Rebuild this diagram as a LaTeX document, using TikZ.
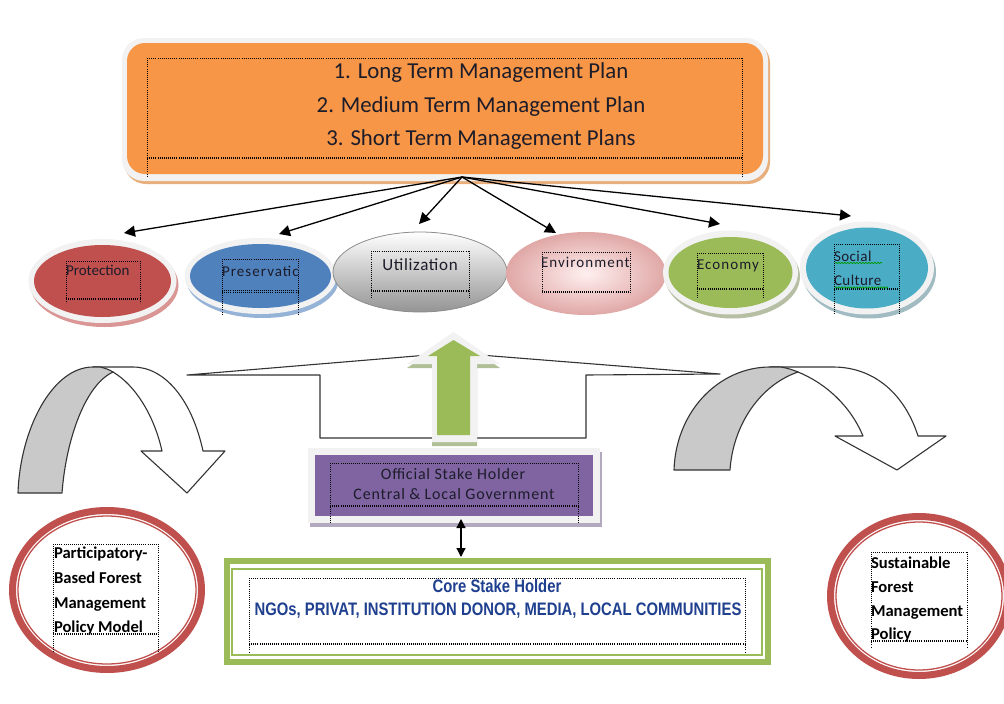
\documentclass[tikz,border=0pt]{standalone}
\usepackage{fontspec}
\setmainfont{Carlito}
\newfontfamily\narrowf[FakeStretch=0.82]{Liberation Sans}
\usetikzlibrary{arrows.meta,shapes.geometric,decorations.pathmorphing}
\definecolor{orangeF}{HTML}{F79646}
\definecolor{ringW}{HTML}{F2F2F2}
\definecolor{redF}{HTML}{C0504D}
\definecolor{blueF}{HTML}{4F81BD}
\definecolor{greenF}{HTML}{9BBB59}
\definecolor{tealF}{HTML}{4BACC6}
\definecolor{purpleF}{HTML}{8064A2}
\definecolor{navyT}{HTML}{1F3F8F}
\definecolor{darkT}{HTML}{1C1C2A}
\tikzset{
  dotline/.style={draw=black,line width=1pt,dash pattern=on 1pt off 1.1pt},
  ell/.style={ellipse,inner sep=0pt,outer sep=0pt,draw=none},
  lab/.style={inner sep=0pt,outer sep=0pt,text=darkT,anchor=base west,font=\fontsize{15}{17}\selectfont},
  toplab/.style={inner sep=0pt,outer sep=0pt,text=darkT,anchor=base,font=\fontsize{22.8}{24}\selectfont},
  boldlab/.style={lab,text=black,font=\fontsize{16.6}{18}\selectfont\bfseries},
  midlab/.style={inner sep=0pt,outer sep=0pt,text=darkT,anchor=base,font=\fontsize{16}{18}\selectfont\addfontfeature{LetterSpace=5}},
  corelab/.style={inner sep=0pt,outer sep=0pt,text=navyT,anchor=base,font=\narrowf\fontsize{18.1}{20}\selectfont\bfseries},
  link/.style={draw=black,line width=1.3pt,-{Triangle[length=11pt,width=11pt]}},
  twoway/.style={draw=black,line width=1.2pt,{Triangle[length=9pt,width=9pt]}-{Triangle[length=9pt,width=9pt]}},
  outlineS/.style={draw=black!80,line width=1.1pt,fill=white,line join=round},
  grayS/.style={outlineS,fill=black!21},
  spell/.style={draw=green!60!black,line width=0.7pt,decorate,decoration={snake,amplitude=0.7pt,segment length=3pt}}
}
% x1 y-top x2 y-line y-end
\newcommand{\dotframe}[5]{%
  \draw[dotline] (#1,#2) -- (#3,#2);
  \draw[dotline] (#1,#4) -- (#3,#4);
  \draw[dotline] (#1,#4+1.8) -- (#3,#4+1.8);
  \draw[dotline] (#1,#2) -- (#1,#5);
  \draw[dotline] (#3,#2) -- (#3,#5);
}
% name, colour, shadow colour, cx cy, fill w h, ring w h
\newcommand{\ringell}[9]{%
  \node[ell,fill=#3,minimum width=#8pt,minimum height=#9pt] at (#4+2,#5+4) {};
  \node[ell,fill=ringW,minimum width=#8pt,minimum height=#9pt] at (#4,#5) {};
  \node[ell,fill=#2,minimum width=#6pt,minimum height=#7pt] (#1) at (#4,#5) {};
}
\begin{document}
\begin{tikzpicture}[x=1pt,y=-1pt]
\useasboundingbox (0,0) rectangle (1004,704);
\clip (0,0) rectangle (1004,704);
\fill[white] (0,0) rectangle (1004,704);

% top box
\fill[rounded corners=22pt,fill=orangeF!55!brown!70] (124,41) rectangle (770,184);
\fill[rounded corners=22pt,fill=ringW] (122,38) rectangle (768,181);
\node[rectangle,draw=none,fill=orangeF,rounded corners=18pt,inner sep=0pt,minimum width=636pt,minimum height=131pt] (plan) at (445,108.5) {};
\dotframe{147}{58}{742}{157}{176}
\node[toplab] (t1) at (481,78.5) {1. Long Term Management Plan};
\node[toplab] (t2) at (481,112) {2. Medium Term Management Plan};
\node[toplab] (t3) at (481,145) {3. Short Term Management Plans};
\coordinate (hub) at (462,177);

% ellipses
\ringell{prot}{redF}{redF!60!white}{102.5}{281}{137}{72}{148}{84}
\ringell{pres}{blueF}{blueF!60!white}{260.5}{276}{141}{64}{152}{76}
\node[ell,draw=black!45,line width=0.8pt,top color=white,bottom color=black!42,minimum width=174pt,minimum height=80pt] (util) at (420,272) {};
\node[ell,draw=none,shading=radial,inner color=red!6!white,outer color=redF!50!white,minimum width=160pt,minimum height=83pt] (envi) at (586,273.5) {};
\ringell{econ}{greenF}{greenF!60!black!45!white}{730.5}{272.5}{124}{71}{135}{84}
\ringell{soci}{tealF}{tealF!60!black!45!white}{867}{268}{122}{81}{134}{93}

\dotframe{66}{261}{140}{298}{303}
\dotframe{222}{259}{298}{290.5}{314}
\dotframe{371}{251}{469}{290}{299}
\dotframe{542}{252}{630}{291}{294}
\dotframe{697}{253}{763}{288}{298}
\dotframe{834}{244}{899}{288}{314}

\node[lab] (lprot) at (66,275) {Protection};
\begin{scope}
\clip (222,255) rectangle (298,285);
\node[lab] (lpres) at (222,276) {\addfontfeature{LetterSpace=7}Preservatic};
\end{scope}
\node[lab,anchor=base] (lutil) at (420,270) {\fontsize{17}{19}\selectfont\addfontfeature{LetterSpace=4}Utilization};
\node[lab] (lenvi) at (541,267) {\addfontfeature{LetterSpace=7}Environment};
\node[lab] (lecon) at (697,269) {\addfontfeature{LetterSpace=7}Economy};
\node[lab] (lsoc) at (834,261) {\addfontfeature{LetterSpace=3}Social};
\node[lab] (lcul) at (834,285) {\addfontfeature{LetterSpace=3}Culture};
\draw[spell] (835,263) -- (882,263);
\draw[spell] (835,287.5) -- (888,287.5);

% links
\coordinate (aprot) at (124,233);
\coordinate (apres) at (279,234);
\coordinate (autil) at (419,224);
\coordinate (aenvi) at (556,233);
\coordinate (aecon) at (720,224);
\coordinate (asoci) at (851,216);
\foreach \t in {aprot,apres,autil,aenvi,aecon,asoci} \draw[link] (hub) -- (\t);

% callout outline
\draw[outlineS] (187,375) -- (320,375) -- (320,438) -- (586,438) -- (586,375) -- (720,374) -- (480,355) -- (428,355) -- cycle;

% green arrow
\fill[greenF!60!gray!70] (453.5,336) -- (500,368) -- (477,368) -- (477,446) -- (432,446) -- (432,368) -- (407,368) -- cycle;
\fill[ringW] (453.5,332) -- (500,364) -- (477,364) -- (477,442) -- (432,442) -- (432,364) -- (407,364) -- cycle;
\fill[greenF] (453.5,340) -- (480,356) -- (470,356) -- (470,435) -- (437,435) -- (437,356) -- (428,356) -- cycle;

% left curved arrow
\draw[outlineS] (93,367) -- (133,367) .. controls (165,367) and (192,400) .. (203,451) -- (225,451) -- (187,493) -- (141,451) -- (162,451) .. controls (154,415) and (135,385) .. (113,372) -- cycle;
\draw[grayS] (18,493) .. controls (20,430) and (52,367) .. (93,367) -- (100,367) .. controls (105,368) and (110,370) .. (113,372) .. controls (85,385) and (66,440) .. (62,493) -- cycle;

% right curved arrow
\draw[outlineS] (770,367) -- (833,367) .. controls (875,367) and (905,395) .. (918,436) -- (946,436) -- (897,470) -- (835,436) -- (863,436) .. controls (850,405) and (825,383) .. (798,372) -- cycle;
\draw[grayS] (674,470) .. controls (676,410) and (720,367) .. (770,367) -- (780,367) .. controls (788,368) and (793,370) .. (798,372) .. controls (760,385) and (733,425) .. (730,470) -- cycle;

% official box
\fill[purpleF!60!gray!60] (310,452) rectangle (602,527);
\fill[ringW] (308,448) rectangle (600,523);
\node[rectangle,fill=purpleF,inner sep=0pt,minimum width=278pt,minimum height=61pt] (official) at (454,485.5) {};
\dotframe{330}{463}{578}{505}{522}
\node[midlab] (o1) at (453,479) {Official Stake Holder};
\node[midlab] (o2) at (454,499) {Central \& Local Government};

% core frame
\draw[greenF,line width=6.5pt] (227.2,561.2) rectangle (767.8,661.8);
\node[rectangle,draw=greenF,line width=1.6pt,fill=white,inner sep=0pt,minimum width=530pt,minimum height=86pt] (core) at (497,612) {};
\dotframe{249}{578}{745}{643}{653}
\node[corelab] (c1) at (497,592) {Core Stake Holder};
\node[corelab] (c2) at (498,615) {NGOs, PRIVAT, INSTITUTION DONOR, MEDIA, LOCAL COMMUNITIES};

% two-way arrow
\coordinate (da) at (461,519);
\coordinate (db) at (461,557);
\draw[twoway] (da) -- (db);

% left circle
\node[ell,draw=redF,line width=7pt,fill=white,minimum width=189pt,minimum height=159pt] (leftc) at (107,590) {};
\node[ell,draw=redF,line width=1.3pt,fill=white,minimum width=178pt,minimum height=148pt] (leftd) at (107,590) {};
\dotframe{53}{544}{158}{633}{652}
\node[boldlab] (l1) at (54,558.5) {Participatory-};
\node[boldlab] (l2) at (54,583.5) {Based Forest};
\node[boldlab] (l3) at (54,608) {Management};
\node[boldlab] (l4) at (54,632.5) {Policy Model};

% right circle
\node[ell,draw=redF,line width=7pt,fill=white,minimum width=177pt,minimum height=159pt] (rightc) at (919,596) {};
\node[ell,draw=redF,line width=1.3pt,fill=white,minimum width=166pt,minimum height=148pt] (rightd) at (919,596) {};
\dotframe{871}{552}{967}{640}{647}
\node[boldlab] (r1) at (871,568) {Sustainable};
\node[boldlab] (r2) at (871,592) {Forest};
\node[boldlab] (r3) at (871,616) {Management};
\node[boldlab] (r4) at (871,639) {Policy};
\end{tikzpicture}
\end{document}
